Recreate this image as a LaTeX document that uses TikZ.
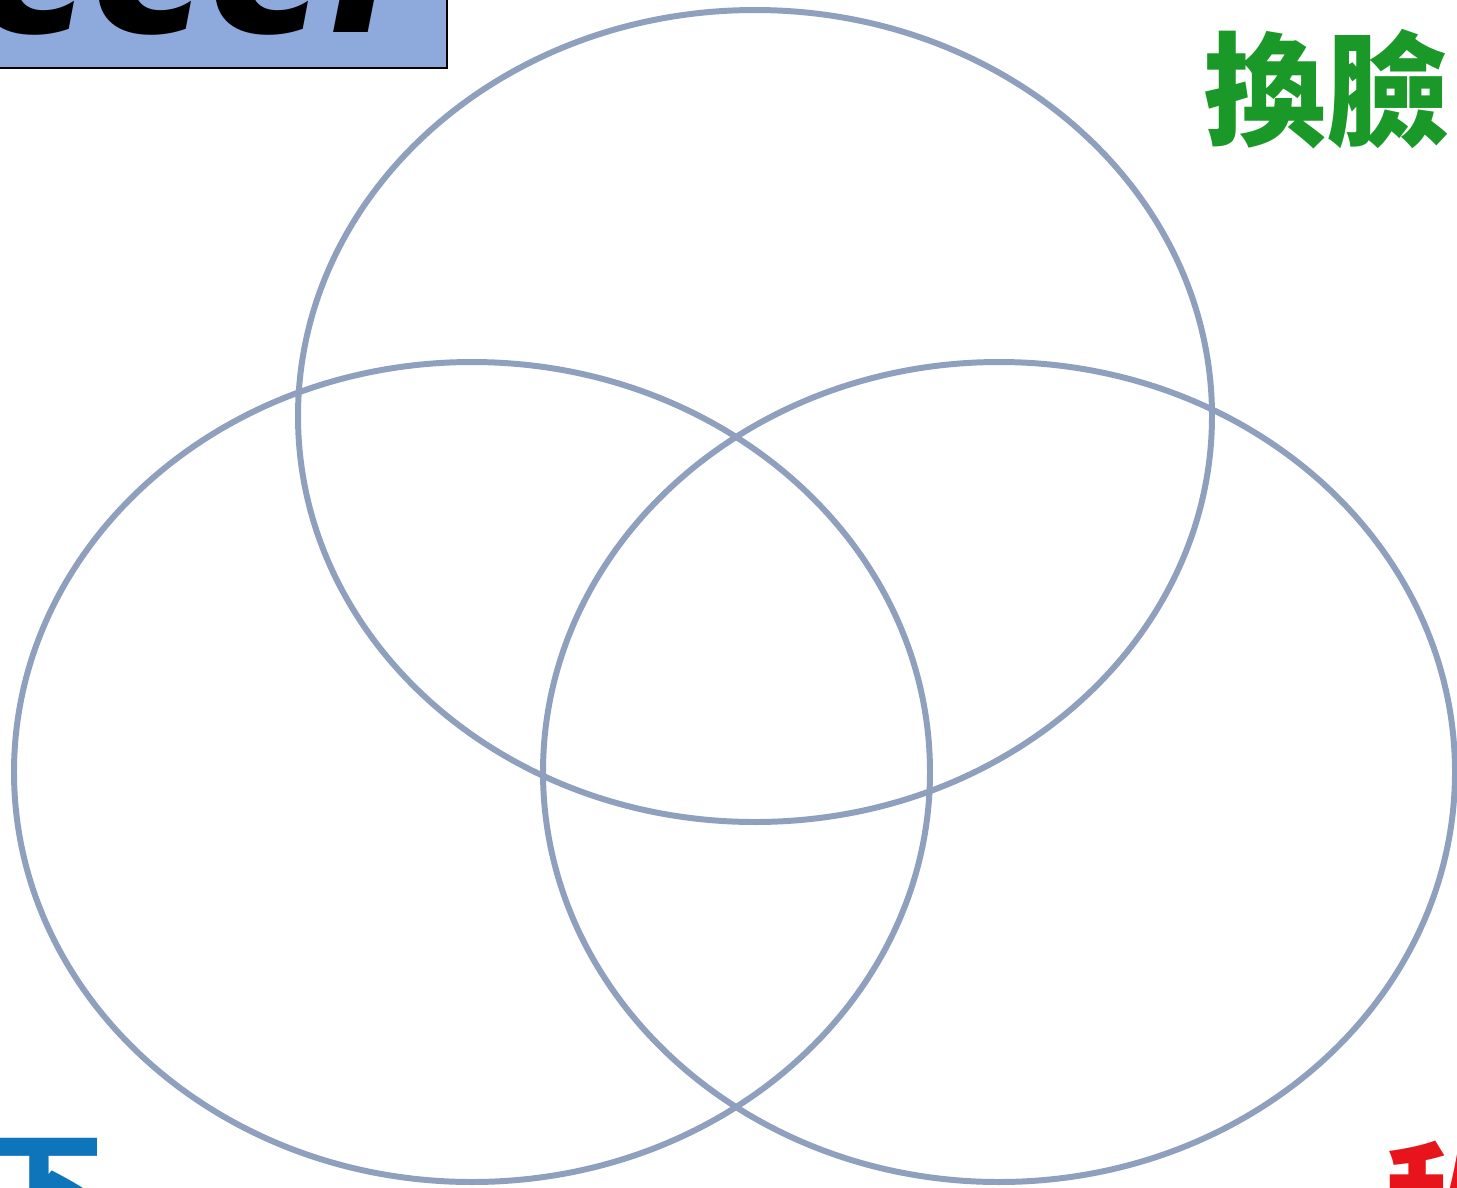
\documentclass[tikz,border=0pt]{standalone}
\usepackage{fontspec}
\newfontfamily\cjk{Noto Sans CJK TC}
\newfontfamily\latinbold{DejaVu Sans}
\definecolor{ringgray}{RGB}{142,160,190}
\definecolor{boxblue}{RGB}{142,170,220}
\definecolor{facegreen}{RGB}{26,152,40}
\definecolor{lowblue}{RGB}{14,117,187}
\definecolor{privred}{RGB}{232,20,28}
\tikzset{
  ring/.style={draw=ringgray,line width=1.7pt},
  bigcjk/.style={font=\cjk\bfseries\fontsize{35pt}{40pt}\selectfont,inner sep=0pt,anchor=base west}
}

\begin{document}
\begin{tikzpicture}[x=0.01cm,y=-0.01cm]
\useasboundingbox (0,0) rectangle (1457,1187);
\clip (0,0) rectangle (1457,1187);
\fill[white] (0,0) rectangle (1457,1187);
% title box, cut at the top
\draw[fill=boxblue,line width=0.6pt] (-5,-20) rectangle (447,68);
\node (title) [font=\latinbold\bfseries\itshape\fontsize{56pt}{60pt}\selectfont,
  inner sep=0pt,anchor=base west] at (-26,32) {ccc:};
% three rings
\draw[ring] (755,416) ellipse [x radius=457,y radius=406];
\draw[ring] (472,772) ellipse [x radius=458,y radius=410];
\draw[ring] (999,772) ellipse [x radius=456,y radius=410];
% labels
\node (face) [bigcjk,text=facegreen] at (1203,136) {換臉};
\node (low) [bigcjk,text=lowblue] at (-20,1234) {下};
\node (priv) [bigcjk,text=privred] at (1384,1245) {私};
\end{tikzpicture}
\end{document}
